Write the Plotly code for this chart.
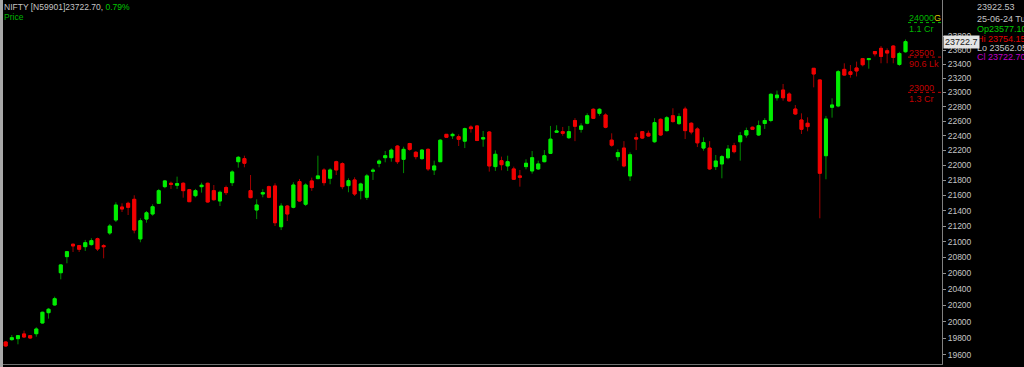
import math
import plotly.graph_objects as go

# ---------------- data ----------------
open_ = [19753, 19781, 19793, 19850, 19829, 19853, 19983, 20109, 20204, 20605,
         20808, 20966, 20948, 20935, 20961, 21037, 20948, 21110, 21278, 21447,
         21496, 21548, 21034, 21290, 21356, 21496, 21715, 21760, 21734, 21760,
         21675, 21596, 21715, 21760, 21662, 21526, 21703, 21768, 22048, 22089,
         21662, 21408, 21618, 21715, 21724, 21191, 21460, 21443, 21782, 21483,
         21791, 21822, 21937, 21827, 22048, 22022, 21729, 21804, 21662, 21575,
         21920, 22027, 22102, 22102, 22259, 22080, 22294, 22175, 22089, 22215,
         21937, 22048, 22419, 22400, 22387, 22326, 22520, 22534, 22355, 22451,
         21982, 22062, 21991, 21951, 21858, 21982, 21924, 21951, 22048, 22160,
         22447, 22456, 22373, 22608, 22488, 22571, 22764, 22708, 22685, 22340,
         22116, 22232, 21858, 22373, 22456, 22433, 22318, 22625, 22470, 22675,
         22566, 22768, 22571, 22493, 22232, 22232, 21982, 22018, 22102, 22264,
         22318, 22410, 22516, 22410, 22568, 22609, 22925, 23033, 22977, 22768,
         22616, 22571, 23340, 23175, 22129, 22792, 22810, 23325, 23290, 23345,
         23478, 23464, 23580, 23626, 23591, 23659, 23395, 23577.10]
high = [19761, 19837, 19832, 19890, 19837, 19931, 20122, 20167, 20306, 20712,
        20880, 20973, 20957, 21021, 21043, 21050, 20966, 21226, 21509, 21496,
        21517, 21601, 21300, 21395, 21483, 21685, 21804, 21782, 21848, 21773,
        21685, 21685, 21768, 21768, 21737, 21662, 21729, 21933, 22125, 22129,
        21870, 21548, 21681, 21729, 21760, 21496, 21474, 21773, 21817, 21760,
        21835, 22129, 21960, 21960, 22062, 22040, 21826, 21840, 21768, 21884,
        21960, 22080, 22192, 22228, 22273, 22250, 22303, 22192, 22219, 22228,
        22062, 22353, 22423, 22441, 22419, 22511, 22543, 22543, 22465, 22465,
        22201, 22116, 22129, 21982, 21937, 22080, 22192, 22062, 22205, 22534,
        22543, 22520, 22534, 22641, 22571, 22708, 22778, 22778, 22708, 22433,
        22215, 22326, 22174, 22433, 22465, 22470, 22641, 22639, 22671, 22778,
        22708, 22800, 22585, 22516, 22378, 22326, 22138, 22138, 22273, 22303,
        22451, 22511, 22525, 22608, 22641, 22987, 23025, 23118, 23001, 22823,
        22708, 22653, 23340, 23179, 22672, 22917, 23316, 23411, 23387, 23435,
        23488, 23488, 23580, 23659, 23626, 23674, 23576, 23754.15]
low = [19695, 19769, 19725, 19805, 19793, 19817, 19975, 20036, 20195, 20522,
       20724, 20867, 20867, 20880, 20948, 20880, 20787, 21085, 21252, 21382,
       21343, 21106, 20991, 21243, 21334, 21487, 21694, 21685, 21685, 21570,
       21517, 21575, 21636, 21504, 21530, 21460, 21605, 21724, 21968, 21973,
       21562, 21290, 21575, 21562, 21200, 21148, 21265, 21430, 21517, 21460,
       21659, 21813, 21729, 21747, 21870, 21681, 21641, 21592, 21548, 21540,
       21804, 21973, 22040, 22048, 22018, 21895, 22196, 22080, 22075, 21924,
       21870, 22048, 22374, 22356, 22260, 22232, 22442, 22326, 22250, 21915,
       21924, 21933, 21924, 21804, 21715, 21946, 21888, 21937, 22040, 22151,
       22442, 22400, 22355, 22326, 22442, 22557, 22629, 22675, 22502, 22250,
       22062, 21973, 21791, 22205, 22355, 22387, 22303, 22396, 22456, 22580,
       22548, 22355, 22419, 22246, 22196, 21937, 21937, 21826, 22080, 22160,
       22062, 22373, 22479, 22396, 22493, 22585, 22884, 22884, 22870, 22685,
       22424, 22461, 23071, 21300, 21813, 22648, 22792, 23234, 23207, 23225,
       23368, 23335, 23510, 23412, 23412, 23412, 23375, 23562.05]
close = [19705, 19805, 19829, 19813, 19801, 19910, 20114, 20151, 20281, 20703,
         20871, 20944, 20902, 20986, 21012, 20906, 20935, 21200, 21473, 21421,
         21443, 21148, 21269, 21372, 21451, 21662, 21791, 21747, 21755, 21662,
         21517, 21662, 21734, 21513, 21543, 21641, 21636, 21911, 22107, 22027,
         21570, 21474, 21636, 21575, 21243, 21460, 21356, 21737, 21526, 21737,
         21703, 21858, 21768, 21937, 21937, 21715, 21795, 21618, 21751, 21858,
         21933, 22057, 22129, 22205, 22048, 22215, 22215, 22116, 22205, 21951,
         21991, 22339, 22379, 22419, 22351, 22497, 22497, 22336, 22373, 21991,
         22148, 22008, 22048, 21813, 21840, 22027, 22102, 22018, 22129, 22353,
         22465, 22433, 22456, 22530, 22534, 22675, 22639, 22764, 22516, 22271,
         22170, 21991, 22142, 22355, 22368, 22396, 22580, 22410, 22647, 22594,
         22662, 22470, 22451, 22303, 22308, 21951, 22057, 22116, 22219, 22183,
         22400, 22470, 22488, 22538, 22609, 22973, 22962, 22925, 22880, 22699,
         22488, 22525, 23259, 21893, 22630, 22824, 23292, 23244, 23253, 23302,
         23391, 23478, 23547, 23510, 23558, 23494, 23552, 23722.70]

y_tick_values = [19600, 19800, 20000, 20200, 20400, 20600, 20800, 21000, 21200,
                 21400, 21600, 21800, 22000, 22200, 22400, 22600, 22800, 23000,
                 23200, 23400, 23600, 23800]

levels = [24000, 23500, 23000]
level_volumes = ["1.1 Cr", "90.6 Lk", "1.3 Cr"]
level_colors = ["#00b400", "#c00000", "#c00000"]

symbol_text = "NIFTY [N59901]"
change_pct_text = "0.79%"
cursor_price_text = "23922.53"
date_text = "25-06-24 Tu"

# ---------------- styling ----------------
W, H = 1024, 367
M_L, M_R, M_T, M_B = 3, 82, 0, 3
PW = W - M_L - M_R
PH = H - M_T - M_B
Y_LO, Y_HI = 19489.5, 24332.6
LOG_LO, LOG_HI = math.log10(Y_LO), math.log10(Y_HI)
FONT = "Liberation Sans, Arial, sans-serif"
GRAY = "#c4c4c4"
BODY_UP, BODY_DN = "#00ee00", "#f20000"
WICK_UP, WICK_DN = "#008c00", "#a00000"


def yfrac(v):
    return (math.log10(v) - LOG_LO) / (LOG_HI - LOG_LO)


def xfrac(px):
    return (px - M_L) / PW


idx = list(range(len(close)))
body_hi = [max(o, c) for o, c in zip(open_, close)]
body_lo = [min(o, c) for o, c in zip(open_, close)]

fig = go.Figure()
# wicks (darker colour)
fig.add_trace(go.Candlestick(
    x=idx, open=open_, high=high, low=low, close=close,
    increasing=dict(line=dict(color=WICK_UP, width=1), fillcolor=WICK_UP),
    decreasing=dict(line=dict(color=WICK_DN, width=1), fillcolor=WICK_DN),
    hoverinfo="skip", showlegend=False,
))
# bodies (bright colour)
fig.add_trace(go.Candlestick(
    x=idx, open=open_, high=body_hi, low=body_lo, close=close,
    increasing=dict(line=dict(color=BODY_UP, width=1), fillcolor=BODY_UP),
    decreasing=dict(line=dict(color=BODY_DN, width=1), fillcolor=BODY_DN),
    hoverinfo="skip", showlegend=False,
))

shapes = [
    # left grey frame bar
    dict(type="rect", xref="paper", yref="paper", x0=-M_L / PW, x1=0,
         y0=-M_B / PH, y1=1, fillcolor="#a8a8a8", line=dict(width=0), layer="above"),
]
annotations = []

for lv, vol, col in zip(levels, level_volumes, level_colors):
    yf = yfrac(lv)
    shapes.append(dict(type="line", xref="paper", yref="paper",
                       x0=xfrac(908), x1=1, y0=yf, y1=yf,
                       line=dict(color=col, width=1, dash="dot")))
    annotations.append(dict(xref="paper", yref="paper", x=xfrac(907), y=yf,
                            xanchor="left", yanchor="middle", yshift=4.5,
                            text=f"{lv}", showarrow=False,
                            font=dict(family=FONT, size=9, color=col)))
    annotations.append(dict(xref="paper", yref="paper", x=xfrac(907), y=yf,
                            xanchor="left", yanchor="middle", yshift=-6.5,
                            text=vol, showarrow=False,
                            font=dict(family=FONT, size=9, color=col)))

# yellow marker after the 24000 level
annotations.append(dict(xref="paper", yref="paper", x=xfrac(932), y=yfrac(levels[0]),
                        xanchor="left", yanchor="middle", yshift=4.5, text="G",
                        showarrow=False, font=dict(family=FONT, size=9, color="#d8c800")))

# header top-left
annotations.append(dict(xref="paper", yref="paper", x=0, y=1, xanchor="left",
                        yanchor="middle", yshift=-6.7, xshift=-1, showarrow=False,
                        text=f"{symbol_text}{close[-1]:.2f}, "
                             f"<span style='color:#00c800'>{change_pct_text}</span>",
                        font=dict(family=FONT, size=8.5, color=GRAY)))
annotations.append(dict(xref="paper", yref="paper", x=0, y=1, xanchor="left",
                        yanchor="middle", yshift=-17.3, xshift=-1, showarrow=False,
                        text="Price", font=dict(family=FONT, size=8.5, color="#00b400")))

# info panel top-right
info = [
    (cursor_price_text, GRAY, 7.3),
    (date_text, GRAY, 18.5),
    (f"Op{open_[-1]:.2f}", "#00c800", 29.3),
    (f"Hi {high[-1]:.2f}", "#e00000", 38.5),
    (f"Lo {low[-1]:.2f}", GRAY, 47.5),
    (f"Cl {close[-1]:.2f}", "#c000c8", 56.8),
]
for txt, col, ypx in info:
    annotations.append(dict(xref="paper", yref="paper", x=xfrac(975), y=1,
                            xanchor="left", yanchor="middle", yshift=-ypx,
                            text=txt, showarrow=False,
                            font=dict(family=FONT, size=9, color=col)))

# current price box on the axis
annotations.append(dict(xref="paper", yref="paper", x=1, y=yfrac(close[-1]),
                        xanchor="left", yanchor="middle", xshift=1,
                        text=f"{close[-1]:.1f}", showarrow=False, bgcolor="#e4e4e4",
                        borderpad=1, font=dict(family=FONT, size=9, color="#202020")))

fig.update_layout(
    width=W, height=H,
    margin=dict(l=M_L, r=M_R, t=M_T, b=M_B, pad=0),
    paper_bgcolor="black", plot_bgcolor="black",
    showlegend=False, hovermode=False, dragmode=False,
    shapes=shapes, annotations=annotations,
    xaxis=dict(range=[-0.44, 152.96], showticklabels=False, showgrid=False,
               zeroline=False, showline=True, linecolor="#707070", linewidth=1,
               ticks="", rangeslider=dict(visible=False), fixedrange=True),
    yaxis=dict(type="log", side="right", range=[LOG_LO, LOG_HI],
               tickmode="array", tickvals=y_tick_values,
               ticktext=[str(v) for v in y_tick_values],
               ticks="outside", ticklen=3, tickcolor="#909090", tickwidth=1,
               showline=True, linecolor="#808080", linewidth=1,
               showgrid=False, zeroline=False, fixedrange=True,
               tickfont=dict(family=FONT, size=8.5, color=GRAY)),
)

fig.write_html("out.html", config=dict(displayModeBar=False, staticPlot=True))
